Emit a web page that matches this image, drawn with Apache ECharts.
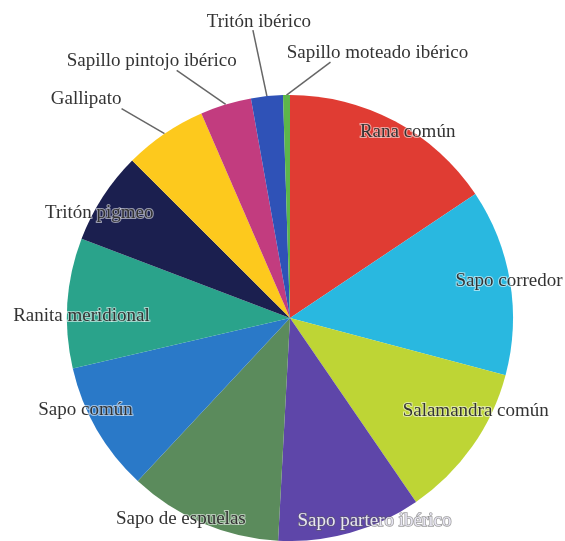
<!DOCTYPE html>
<html>
<head>
<meta charset="utf-8">
<script src="https://cdn.jsdelivr.net/npm/echarts@6/dist/echarts.min.js"></script>
<style>
  html, body { margin: 0; padding: 0; background: #fff; }
  #dom { width: 565px; height: 541px; }
</style>
</head>
<body>
<div id="dom"></div>
<script>
// especies (orden horario desde las 12)
const names = ['Rana común', 'Sapo corredor', 'Salamandra común', 'Sapo partero ibérico',
  'Sapo de espuelas', 'Sapo común', 'Ranita meridional', 'Tritón pigmeo', 'Gallipato',
  'Sapillo pintojo ibérico', 'Tritón ibérico', 'Sapillo moteado ibérico']
// porcentaje
const values = [15.6, 13.5, 11.3, 10.4, 11.1, 9.4, 9.4, 6.7, 6.0, 3.7, 2.3, 0.5]
const colors = ['#e03c33', '#29b8e0', '#bed535', '#5e46a9', '#5b8b5c', '#2a79c8',
  '#2aa38b', '#1b1f4f', '#fdc91d', '#c23c7f', '#2f52b7', '#5db64a']

const cx = 290
const cy = 318
const R = 223

// etiquetas dentro: pequeño ajuste respecto al centro del arco
const innerNudge = [[14, 8], [2, -1], [6, -34], [25, -9], [-23, -1], [-14, -18], [11, 13], [-6, 14]]
// etiquetas fuera: fin de la línea respecto al borde, y texto respecto al fin
const outerLine = { 8: [-43, -25], 9: [-49, -34], 10: [-14, -66], 11: [44, -33] }
const outerText = { 8: [0, -10], 9: [-25, -9], 10: [6, -8], 11: [47, -9] }

const total = values.reduce((a, b) => a + b, 0)
const midAngles = []
let acc = 0
values.forEach(v => {
  midAngles.push((acc + v / 2) / total * 2 * Math.PI)
  acc += v
})
const edgePoint = i => [cx + R * Math.sin(midAngles[i]), cy - R * Math.cos(midAngles[i])]

const textBase = {
  fontFamily: '"Liberation Serif", "DejaVu Serif", serif',
  fontSize: 19,
  color: '#333',
  textBorderColor: 'rgba(255,255,255,0.55)',
  textBorderWidth: 2
}

const mainData = names.map((n, i) => ({
  name: n,
  value: values[i],
  itemStyle: { color: colors[i] },
  label: { show: i >= 8 },
  labelLine: { show: i >= 8 }
}))

const ringData = names.map((n, i) => ({
  name: n,
  value: values[i],
  label: i === 3
    ? { show: true, color: '#e8e6f2', textBorderColor: 'rgba(90,90,90,0.6)', textBorderWidth: 1.5 }
    : { show: i < 8 }
}))

const dom = echarts.init(document.getElementById('dom'))
dom.setOption({
  animation: false,
  textStyle: { fontFamily: '"Liberation Serif", "DejaVu Serif", serif' },
  series: [
    {
      type: 'pie',
      center: [cx, cy],
      radius: R,
      startAngle: 90,
      clockwise: true,
      avoidLabelOverlap: false,
      itemStyle: { borderWidth: 0 },
      label: Object.assign({ position: 'outside' }, textBase),
      labelLine: { lineStyle: { color: '#666', width: 1.5 }, length: 10, length2: 10 },
      labelLayout: p => {
        const i = p.dataIndex
        if (!outerLine[i]) return {}
        const p0 = edgePoint(i)
        const end = [p0[0] + outerLine[i][0], p0[1] + outerLine[i][1]]
        return {
          x: end[0] + outerText[i][0],
          y: end[1] + outerText[i][1],
          align: i === 8 ? 'right' : 'center',
          verticalAlign: 'middle',
          labelLinePoints: [p0, end, end]
        }
      },
      data: mainData
    },
    {
      // anillo transparente sólo para colocar las etiquetas interiores cerca del borde
      type: 'pie',
      center: [cx, cy],
      radius: [R - 26, R + 14],
      startAngle: 90,
      clockwise: true,
      silent: true,
      avoidLabelOverlap: false,
      itemStyle: { color: 'rgba(0,0,0,0)', borderWidth: 0 },
      label: Object.assign({ position: 'inside' }, textBase),
      labelLine: { show: false },
      labelLayout: p => {
        const n = innerNudge[p.dataIndex]
        return n ? { dx: n[0], dy: n[1] } : {}
      },
      data: ringData
    }
  ]
})
</script>
</body>
</html>
